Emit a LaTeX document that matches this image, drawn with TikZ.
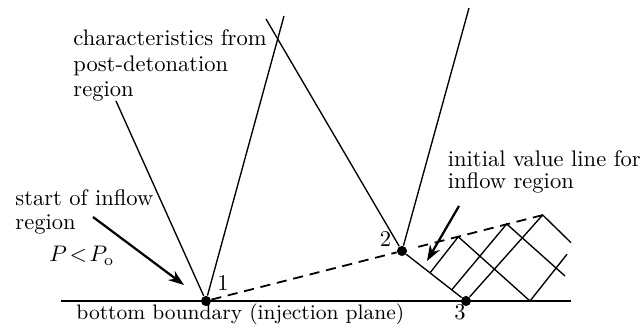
\documentclass[tikz,border=0pt]{standalone}
\usepackage{amsmath,amssymb}
\usepackage{tikz}
\usetikzlibrary{positioning,arrows.meta,calc}

\begin{document}
\begin{tikzpicture}[x=0.444pt, y=0.444pt,
    charline/.style={line width=0.6pt},
    wall/.style={line width=1.3pt},
    ivline/.style={line width=0.8pt, dash pattern=on 4.5pt off 3pt},
    pointer/.style={line width=1pt, -{Stealth[length=7pt, width=5pt]}},
    dot/.style={circle, fill, inner sep=0pt, minimum size=4.5pt},
    txt/.style={inner sep=0pt, align=left, anchor=base west}]
  \useasboundingbox (0,0) rectangle (644,330);

  % points on the boundary
  \node[dot] (p1) at (206,29) {};
  \node[dot] (p2) at (402,79) {};
  \node[dot] (p3) at (466,29) {};
  \node[anchor=base] (n1) at (223,39) {1};
  \node[anchor=base] (n2) at (385.5,83.3) {2};
  \node[anchor=base] (n3) at (460,10) {3};

  \coordinate (wl) at (61,29);
  \coordinate (wr) at (571,29);
  \coordinate (c1) at (116,229);
  \coordinate (c2) at (284,314);
  \coordinate (c3) at (266,311);
  \coordinate (c4) at (469,322);
  \coordinate (ivend) at (547,116);

  % characteristics mesh
  \coordinate (q1) at ($(p2)!0.4375!(p3)$);
  \coordinate (q2) at ($(p2)!0.777!(p3)$);
  \coordinate (r1) at (458.3,93.2);
  \coordinate (r2) at (506.7,106);
  \coordinate (r3) at (542.7,115);
  \coordinate (b1) at (530,29);
  \coordinate (e1) at (565,54);
  \coordinate (e2) at (571,87.3);
  \coordinate (e3) at (567,75.7);

  \draw[wall] (wl) -- (wr);
  \draw[charline] (c1) -- (p1) -- (c2);
  \draw[charline] (c3) -- (p2) -- (c4);
  \draw[ivline, shorten <=5pt] (p1) -- (p2) -- (ivend);
  \draw[charline] (p2) -- (p3);
  \draw[charline] (q1) -- (r1) -- (b1) -- (e3);
  \draw[charline] (q2) -- (r2) -- (e1);
  \draw[charline] (p3) -- (r3) -- (e2);

  % labels
  \node[txt] (chartxt) at (73,233.3) {characteristics from\\[-0.5pt]post-detonation\\[-0.8pt]region};
  \node[txt] (starttxt) at (15,100) {start of inflow\\[-1.3pt]region};
  \node[txt] (ptxt) at (49,68.3) {$P\!<\!P_{\mathrm{o}}$};
  \node[txt] (ivtxt) at (447.5,141) {initial value line for\\[-1.8pt]inflow region};
  \node[txt, font=\fontsize{9.3}{11}\selectfont] (walltxt) at (76,10) {bottom boundary (injection plane)};

  \coordinate (a1s) at (93,113);
  \coordinate (a1e) at (184,45);
  \coordinate (a2s) at (459,124);
  \coordinate (a2e) at (427,69);
  \draw[pointer] (a1s) -- (a1e);
  \draw[pointer] (a2s) -- (a2e);
\end{tikzpicture}
\end{document}
